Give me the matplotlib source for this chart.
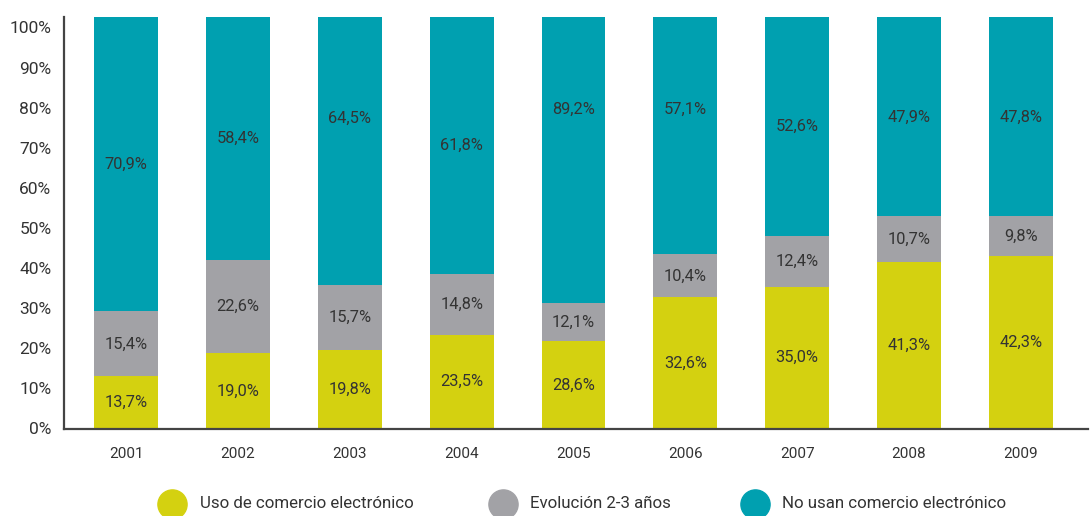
import matplotlib.pyplot as plt
from matplotlib.lines import Line2D

plt.rcParams['font.family'] = ['Roboto', 'DejaVu Sans']

# Données
annees = ["2001", "2002", "2003", "2004", "2005", "2006", "2007", "2008", "2009"]
# hauteurs des segments (en % de l'axe)
uso = [13.0, 18.7, 19.5, 23.4, 21.7, 32.7, 35.4, 41.6, 43.0]
evolucion = [16.2, 23.4, 16.2, 15.1, 9.5, 10.7, 12.7, 11.3, 9.9]
no_usan = [73.3, 60.4, 66.8, 64.0, 71.3, 59.1, 54.4, 49.6, 49.6]
# étiquettes affichées
lab_uso = ["13,7%", "19,0%", "19,8%", "23,5%", "28,6%", "32,6%", "35,0%", "41,3%", "42,3%"]
lab_evol = ["15,4%", "22,6%", "15,7%", "14,8%", "12,1%", "10,4%", "12,4%", "10,7%", "9,8%"]
lab_no = ["70,9%", "58,4%", "64,5%", "61,8%", "89,2%", "57,1%", "52,6%", "47,9%", "47,8%"]
series = ["Uso de comercio electrónico", "Evolución 2-3 años", "No usan comercio electrónico"]

couleurs = ["#D4D110", "#A2A2A6", "#00A0B0"]
texte = "#333333"
# décalage vertical de quelques étiquettes (teal)
decal_no = {2: 8.2, 4: 12.7, 5: 6.6}

fig = plt.figure(figsize=(10.9, 5.16), dpi=100)
ax = fig.add_axes([64 / 1090, 87.5 / 516, 1024 / 1090, 411.5 / 516])

x = list(range(len(annees)))
largeur = 0.57
bas = [0.0] * len(annees)
for vals, labs, coul in zip([uso, evolucion, no_usan], [lab_uso, lab_evol, lab_no], couleurs):
    ax.bar(x, vals, largeur, bottom=bas, color=coul, linewidth=0)
    for i, (v, lab) in enumerate(zip(vals, labs)):
        yc = bas[i] + v / 2
        if coul == couleurs[2]:
            yc += decal_no.get(i, 0)
        ax.text(i, yc, lab, ha="center", va="center", fontsize=11.8, color=texte)
    bas = [b + v for b, v in zip(bas, vals)]

ax.set_xlim(-0.555, 8.6)
ax.set_ylim(0, 102.6)
ax.set_yticks(range(0, 101, 10))
ax.set_yticklabels([f"{t}%" for t in range(0, 101, 10)], fontsize=12.5, color=texte)
ax.set_xticks(x)
ax.set_xticklabels(annees, fontsize=11, color=texte)
ax.tick_params(axis="y", length=0, pad=9)
ax.tick_params(axis="x", length=0, pad=13)
for s in ["top", "right"]:
    ax.spines[s].set_visible(False)
for s in ["left", "bottom"]:
    ax.spines[s].set_color("#444444")
    ax.spines[s].set_linewidth(1.6)

# Légende placée à la main
pos_rond = [172, 503, 755]
pos_texte = [200, 530, 782]
yl = 12 / 516
for c, nom, xr, xt in zip(couleurs, series, pos_rond, pos_texte):
    fig.add_artist(Line2D([xr / 1090], [yl], marker="o", markersize=21,
                          markerfacecolor=c, markeredgecolor=c,
                          transform=fig.transFigure))
    fig.text(xt / 1090, yl, nom, ha="left", va="center", fontsize=12.2, color=texte)

fig.savefig("out.png", dpi=100)
